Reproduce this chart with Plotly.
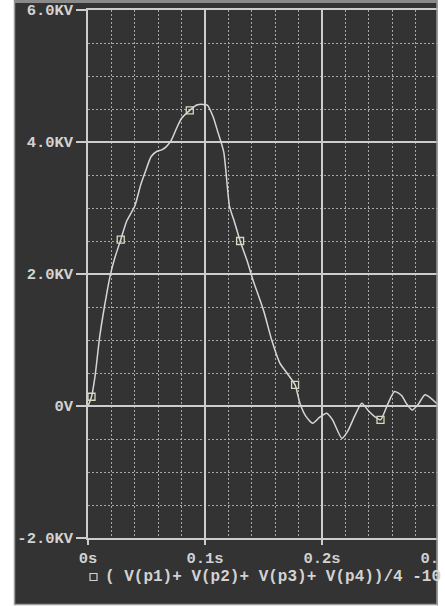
import plotly.graph_objects as go

# Waveform: time (s) and voltage (kV)
time_s = [0.000, 0.003, 0.006, 0.010, 0.014, 0.019, 0.023, 0.028, 0.033, 0.040,
          0.045, 0.049, 0.054, 0.059, 0.063, 0.067, 0.071, 0.076, 0.080, 0.087,
          0.093, 0.098, 0.102, 0.107, 0.111, 0.116, 0.121, 0.125, 0.130, 0.136,
          0.141, 0.150, 0.157, 0.164, 0.170, 0.177, 0.181, 0.186, 0.192, 0.198,
          0.204, 0.209, 0.217, 0.222, 0.228, 0.234, 0.240, 0.245, 0.250, 0.256,
          0.262, 0.268, 0.272, 0.277, 0.282, 0.288, 0.293, 0.298, 0.300]
volt_kv = [0.00, 0.14, 0.45, 1.05, 1.50, 1.98, 2.25, 2.52, 2.80, 3.03,
           3.35, 3.55, 3.78, 3.86, 3.88, 3.93, 4.02, 4.22, 4.36, 4.48,
           4.56, 4.57, 4.56, 4.38, 4.15, 3.85, 3.02, 2.80, 2.50, 2.20,
           1.91, 1.45, 1.00, 0.65, 0.50, 0.32, 0.05, -0.15, -0.26, -0.17,
           -0.11, -0.21, -0.49, -0.38, -0.15, 0.04, -0.08, -0.16, -0.21, 0.02,
           0.22, 0.16, 0.04, -0.06, 0.02, 0.17, 0.12, 0.04, 0.02]

# Trace markers (square symbols placed along the trace)
marker_t = [0.003, 0.028, 0.087, 0.130, 0.177, 0.250]
marker_v = [0.14, 2.52, 4.48, 2.50, 0.32, -0.21]

x_tickvals = [0, 0.1, 0.2, 0.3]
x_ticktext = ["0s", "0.1s", "0.2s", "0.3s"]
y_tickvals = [-2, 0, 2, 4, 6]
y_ticktext = ["-2.0KV", "0V", "2.0KV", "4.0KV", "6.0KV"]
legend_text = "( V(p1)+ V(p2)+ V(p3)+ V(p4))/4 -10"

W, H = 445, 606
L, R, T, B = 88, 6, 10, 68
PW, PH = W - L - R, H - T - B

def px(x):
    return (x - L) / PW

def py(y):
    return (H - B - y) / PH

BG = "#333333"
FG = "#d2d2d2"
GRID = "#cdcdcd"
MINOR = "#a8a8a8"
FONT = dict(family="Liberation Mono, DejaVu Sans Mono, monospace", size=15.5, color=FG, weight="bold")
LFONT = dict(FONT, size=16)

fig = go.Figure()
fig.add_trace(go.Scatter(x=time_s, y=volt_kv, mode="lines",
                         line=dict(color="#d6d6d6", width=1.5, shape="spline", smoothing=0.6),
                         hoverinfo="skip", showlegend=False))
fig.add_trace(go.Scatter(x=marker_t, y=marker_v, mode="markers",
                         marker=dict(symbol="square-open", size=7, color="#d8d8bc",
                                     line=dict(width=1.3, color="#d8d8bc")),
                         hoverinfo="skip", showlegend=False))

axis_common = dict(showline=True, linecolor=GRID, linewidth=1.5, mirror=True,
                   showgrid=True, gridcolor=GRID, gridwidth=1.5, zeroline=False,
                   ticks="outside", tickcolor=GRID, tickwidth=1.5, tickfont=FONT,
                   automargin=False, ticklabeloverflow="allow")

fig.update_xaxes(range=[0, 0.3], tickmode="array", tickvals=x_tickvals, ticktext=x_ticktext,
                 ticklen=5,
                 minor=dict(tickmode="linear", tick0=0, dtick=0.02, showgrid=True,
                            gridcolor=MINOR, griddash="2px,2px", gridwidth=1.2),
                 **axis_common)
fig.update_yaxes(range=[-2, 6], tickmode="array", tickvals=y_tickvals, ticktext=y_ticktext,
                 ticklen=10,
                 minor=dict(tickmode="linear", tick0=0, dtick=0.5, showgrid=True,
                            gridcolor=MINOR, griddash="2px,2px", gridwidth=1.2),
                 **axis_common)

shapes = [
    # legend symbol
    dict(type="rect", xref="paper", yref="paper", x0=px(90), x1=px(97), y0=py(580.5), y1=py(573.5),
         line=dict(color=FG, width=1.2), fillcolor="rgba(0,0,0,0)", layer="above"),
    # white margins outside panel
    dict(type="rect", xref="paper", yref="paper", x0=px(-2), x1=px(14), y0=py(H + 2), y1=py(-2),
         line=dict(width=0), fillcolor="white", layer="above"),
    dict(type="rect", xref="paper", yref="paper", x0=px(437.5), x1=px(W + 2), y0=py(H + 2), y1=py(-2),
         line=dict(width=0), fillcolor="white", layer="above"),
    dict(type="rect", xref="paper", yref="paper", x0=px(14), x1=px(437.5), y0=py(H + 2), y1=py(605),
         line=dict(width=0), fillcolor="white", layer="above"),
    # panel border
    dict(type="rect", xref="paper", yref="paper", x0=px(14.5), x1=px(437), y0=py(604.5), y1=py(1),
         line=dict(color="#9c9c9c", width=1.5), fillcolor="rgba(0,0,0,0)", layer="above"),
    dict(type="line", xref="paper", yref="paper", x0=px(14.5), x1=px(437), y0=py(1.5), y1=py(1.5),
         line=dict(color="#8a8a8a", width=3), layer="above"),
]

fig.update_layout(
    width=W, height=H,
    margin=dict(l=L, r=R, t=T, b=B, pad=0, autoexpand=False),
    paper_bgcolor=BG, plot_bgcolor=BG,
    shapes=shapes,
    hovermode=False,
    annotations=[dict(text=legend_text, xref="paper", yref="paper", x=px(103), y=py(577),
                      xanchor="left", yanchor="middle", showarrow=False, font=LFONT)],
)

fig.write_html("out.html", config={"displayModeBar": False},
               post_script="document.body.style.margin='0';document.body.style.overflow='hidden';")
